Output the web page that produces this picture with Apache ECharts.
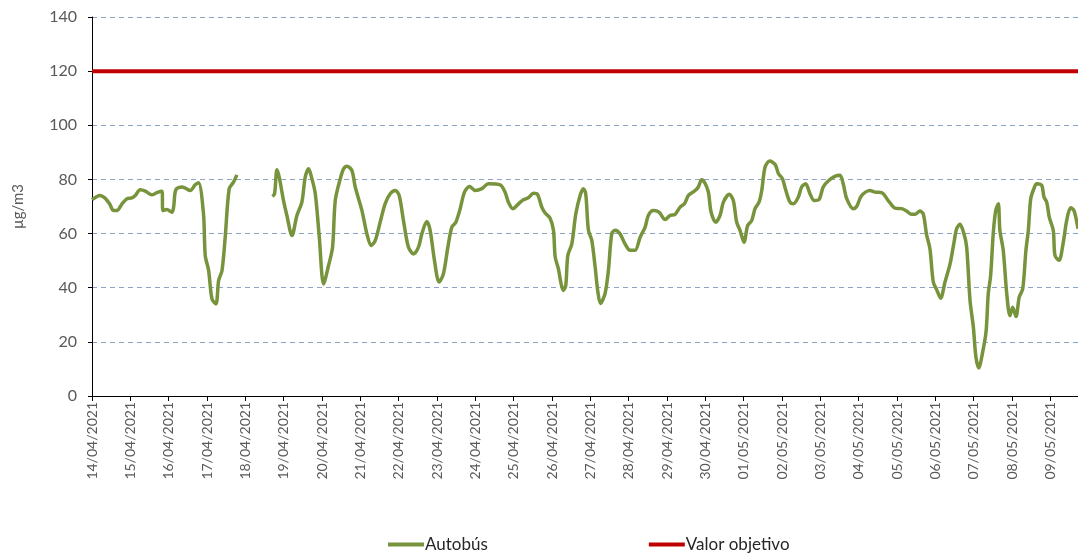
<!DOCTYPE html>
<html>
<head>
<meta charset="utf-8">
<script src="https://cdn.jsdelivr.net/npm/echarts@6/dist/echarts.min.js"></script>
<style>
  html, body { margin: 0; padding: 0; background: #fff; }
  #chart { width: 1078px; height: 560px; }
</style>
</head>
<body>
<div id="chart"></div>
<script>
// etiquetas de los días (una marca cada 24 h)
var dias = ['14/04/2021','15/04/2021','16/04/2021','17/04/2021','18/04/2021','19/04/2021',
  '20/04/2021','21/04/2021','22/04/2021','23/04/2021','24/04/2021','25/04/2021','26/04/2021',
  '27/04/2021','28/04/2021','29/04/2021','30/04/2021','01/05/2021','02/05/2021','03/05/2021',
  '04/05/2021','05/05/2021','06/05/2021','07/05/2021','08/05/2021','09/05/2021'];

// horas desde 14/04/2021 00:00 y valores de Autobús (µg/m3), null = sin dato
var horas = [0,5,8,11,13.5,15.6,18.8,21.9,25,27.1,30.2,33.4,37.5,40.6,43.8,44.4,46.9,50,51.1,52.5,56.3,58.4,61.5,64.6,66.7,
  69.8,70.9,73,75.1,77.6,79.3,81.4,83.4,85.9,88.6,90.7,
  100,
  113,114.3,115.8,117.2,119.9,122,125.2,128.3,131.4,133.5,135.6,137.7,139.8,142.3,145,148.1,150.6,152.3,155.4,157.5,159.6,
  162.7,164.8,169,172.1,174.8,177.3,180.4,183.5,186.7,189.8,192.3,195,198.1,201.3,204.4,206.5,209.6,211.7,214.4,217.3,
  220,222.8,225.3,227.8,230.5,233.2,236.3,239.9,244.1,248.2,255.5,258.6,260.7,263.5,267,270.1,273.2,276.4,278.9,281.6,
  283.7,286.8,288.9,290,292,293.7,295.1,296.6,297.9,300.4,302.9,305.6,307.6,309.1,310.8,312.9,315,316.7,318.3,321.2,323.3,
  325.4,327.5,330.6,333.7,336.9,340,343.2,346.3,348.3,351.4,355,358.8,361.9,365,368.2,370.9,373.4,377.6,379.6,381.7,383.8,
  385.9,387.6,390.5,393.2,395.3,399,401.5,403.6,405.7,408.2,410.5,413,415.1,417.6,419.3,421.4,424.3,427.7,429.8,432.3,
  434.4,437,439.1,442.2,444.3,446.8,449.5,452.2,455.1,457.8,460.9,465.1,468.3,470.3,472.5,476.6,478.7,481.9,487.1,490.2,
  494.4,498.5,502.7,506.9,510,513.1,515.2,518.3,520.4,522.5,524.6,526.7,528.8,531.3,534,537.2,539.7,541.3,543.4,545.9,
  547.6,549.7,551.8,553.4,555.3,557,559.7,561.1,562.6,564.3,565.8,567.4,568.4,570.5,572.7,574.7,576.4,578.5,580.5,582.7,
  584.7,586.2,587.7,589.7,591.4,594.6,596,597.7,599.3,601.8,602.9,605.4,608.1,610.2,612.7,614.8,617.3];
var autobus = [72.5,74.1,73.2,71,68.5,68.5,71,72.9,73.2,74.1,76.2,75.7,74.3,75.1,75.6,68.5,68.9,67.9,69.8,76.2,77.2,76.8,75.9,78,78.8,
  67.3,51.9,46.4,35.9,34,42.7,46.4,58.7,76.6,79,81.7,
  null,
  73.7,74.7,83.6,80.9,72.2,66.7,59.3,66.7,71.6,80.9,83.9,80.2,74.7,58.7,41.4,48.2,55,72.2,80.2,83.9,84.9,
  83.3,77.2,68.5,59.9,55.6,57.4,64.2,71,74.7,75.9,74.1,64.8,55,52.5,55,59.9,64.5,61.2,50.1,42.1,
  45.1,55,62.4,64.2,69.2,75.3,77.4,75.9,76.6,78.4,78,75.3,71.6,69.2,71,72.5,73.2,74.9,74.5,69.8,
  67.6,65.7,61.2,51.3,47,41.4,39,40.8,51.9,56.2,67.3,74.1,76.6,74.7,61.2,57.5,47.6,38.5,34.2,37.8,46.4,
  59.9,61.2,59.9,56.2,53.8,53.8,58.7,62.4,66.7,68.5,67.9,65.2,66.7,67.1,69.8,71,74.1,75.9,77.2,79.9,78.6,
  75.3,67.9,64.2,66.7,71.6,74.5,72.2,64.2,61.2,56.8,63,64.8,69.2,71.6,75.9,84.6,86.8,85.5,82.1,80.2,
  75.9,71.6,71,73.5,77.2,78.4,74.7,72.2,72.5,77.2,79.4,81.1,81.5,78.4,72.9,69.2,70,74.1,75.9,75.3,
  75.1,72.2,69.4,69.2,68.3,67.1,67.1,68.3,67.3,59.6,54.4,42.1,39.3,36.1,42,48.8,56.8,61.8,63.4,59.9,
  55,35.3,25.4,14.3,10.3,14.3,23.6,37.7,44.5,60.5,68.5,71,61.2,53.8,37.7,29.7,32.8,29.4,36.5,39.6,
  53.8,61.2,72.9,76.6,78.4,77.8,73.5,71.6,66.1,61.2,51.9,50.1,56.8,64.8,69.5,68.5,61.8];

// valor objetivo (línea horizontal)
var objetivoHoras = [0, 617.3];
var objetivo = [120, 120];

function pares(xs, ys) {
  var out = [];
  for (var i = 0; i < xs.length; i++) out.push([xs[i], ys[i]]);
  return out;
}

var fuente = 'Lato';
var gris = '#595959';

var chart = echarts.init(document.getElementById('chart'));
chart.setOption({
  animation: false,
  textStyle: { fontFamily: fuente },
  grid: { left: 92, right: 0, top: 17, bottom: 164 },
  legend: {
    bottom: 2,
    left: 383,
    itemGap: 161,
    itemWidth: 36,
    itemHeight: 4,
    textStyle: { fontFamily: fuente, fontSize: 17, color: '#262626', padding: [0, 0, 0, -4] },
    data: [
      { name: 'Autobús', icon: 'rect', itemStyle: { color: '#77933C' } },
      { name: 'Valor objetivo', icon: 'rect', itemStyle: { color: '#C00000' } }
    ]
  },
  xAxis: {
    type: 'value',
    min: 0,
    max: 617.3,
    interval: 24,
    splitLine: { show: false },
    axisLine: { onZero: false, lineStyle: { color: '#000', width: 1 } },
    axisTick: { show: true, length: 5, lineStyle: { color: '#000' } },
    axisLabel: {
      rotate: 90,
      margin: 6,
      fontSize: 14,
      color: gris,
      showMaxLabel: false,
      formatter: function (v) {
        var i = Math.round(v / 24);
        return (Math.abs(v - i * 24) < 0.01 && dias[i]) ? dias[i] : '';
      }
    }
  },
  yAxis: {
    type: 'value',
    min: 0,
    max: 140,
    interval: 20,
    name: 'µg/m3',
    nameLocation: 'middle',
    nameGap: 66,
    nameTextStyle: { fontSize: 15, color: gris, fontFamily: fuente },
    axisLine: { show: true, lineStyle: { color: '#000', width: 1 } },
    axisTick: { show: true, length: 4, lineStyle: { color: '#000' } },
    axisLabel: { fontSize: 16, color: gris, margin: 15 },
    splitLine: { lineStyle: { color: '#8EA4C4', type: [5, 4], width: 1 } }
  },
  series: [
    {
      name: 'Autobús',
      type: 'line',
      data: pares(horas, autobus),
      showSymbol: false,
      smooth: 0.3,
      connectNulls: false,
      lineStyle: { color: '#77933C', width: 3.5 },
      itemStyle: { color: '#77933C' },
      z: 3
    },
    {
      name: 'Valor objetivo',
      type: 'line',
      data: pares(objetivoHoras, objetivo),
      showSymbol: false,
      lineStyle: { color: '#C00000', width: 4 },
      itemStyle: { color: '#C00000' },
      z: 2
    }
  ]
});
</script>
</body>
</html>
